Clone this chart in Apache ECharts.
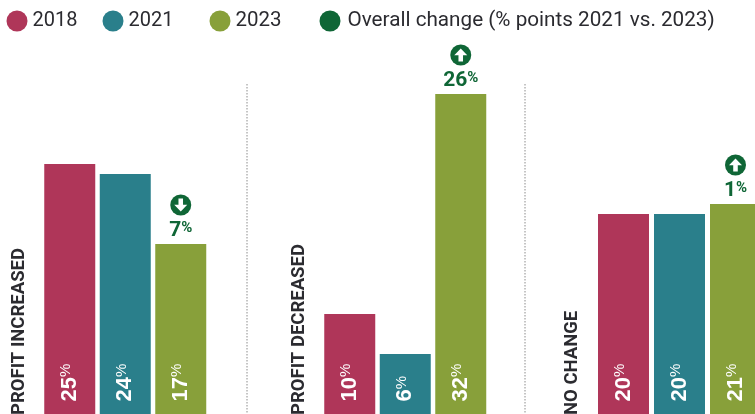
<!DOCTYPE html>
<html><head><meta charset="utf-8">
<style>html,body{margin:0;padding:0;background:#fff;overflow:hidden}#c{width:755px;height:414px}</style>
<script src="https://cdn.jsdelivr.net/npm/echarts@6/dist/echarts.min.js"></script>
</head><body><div id="c"></div>
<script>
const years = ['2018', '2021', '2023'];
const panels = ['PROFIT INCREASED', 'PROFIT DECREASED', 'NO CHANGE'];
const values2018 = [25, 10, 20];
const values2021 = [24, 6, 20];
const values2023 = [17, 32, 21];
const changeValues = [7, 26, 1];
const changeDirections = ['down', 'up', 'up'];
const changeName = 'Overall change (% points 2021 vs. 2023)';

const colors = {'2018': '#AF3659', '2021': '#2A7F8B', '2023': '#88A03A'};
const green = '#0F6636';
const ink = '#2B2B30';
const face = 'Roboto,"Liberation Sans",sans-serif';
const wide = '"Liberation Sans",sans-serif';
const series = [values2018, values2021, values2023];
const gridBoxes = [{left: 42, right: 546.5}, {left: 322, right: 266.5}, {left: 595.5, right: -8.5}];
const arrowUp = 'path://M50 10 L90 52 L64 52 L64 90 L36 90 L36 52 L10 52 Z';

const option = {
  animation: false,
  backgroundColor: '#fff',
  legend: [
    {name: '2018', left: 6.5, size: 20, gap: 0}, {name: '2021', left: 102.5, size: 20, gap: 0},
    {name: '2023', left: 209.5, size: 20.5, gap: 0}, {name: changeName, left: 319.5, size: 20.7, gap: 2}
  ].map(l => ({
    data: [l.name], left: l.left, top: 10.5, icon: 'circle', itemWidth: 21, itemHeight: 21, padding: 0,
    selectedMode: false,
    textStyle: {fontFamily: face, fontSize: l.size, color: ink, padding: [0, 0, 0, l.gap]}
  })),
  grid: gridBoxes.map(b => ({left: b.left, right: b.right, top: 0, bottom: 0, containLabel: false, outerBoundsMode: 'none'})),
  xAxis: panels.map((p, i) => ({
    type: 'category', gridIndex: i, data: years, show: false
  })),
  yAxis: panels.map((p, i) => ({
    type: 'value', gridIndex: i, min: 0, max: 41.4, position: 'left', offset: 23,
    axisLine: {show: false}, axisTick: {show: false}, axisLabel: {show: false}, splitLine: {show: false},
    name: p, nameLocation: 'start', nameGap: 1, nameRotate: 90,
    nameTextStyle: {fontFamily: face, fontWeight: 'bold', fontSize: 18.5, color: ink, align: 'left', verticalAlign: 'middle'}
  })),
  series: [],
  graphic: [247, 525].map(x => ({
    type: 'line', silent: true, shape: {x1: x, y1: 84, x2: x, y2: 414},
    style: {stroke: '#8c8c8c', lineWidth: 1, lineDash: [1.5, 1.5]}
  }))
};

panels.forEach((p, i) => {
  years.forEach((y, k) => {
    option.series.push({
      type: 'bar', name: y, xAxisIndex: i, yAxisIndex: i, stack: 'p' + i, barWidth: 51,
      itemStyle: {color: colors[y]},
      data: years.map((_, j) => j === k ? series[k][i] : '-'),
      label: {
        show: true, position: 'insideBottom', distance: 11, rotate: 90, align: 'left', verticalAlign: 'middle',
        offset: [1.5, 0],
        formatter: d => '{n|' + d.value + '}{p|%}',
        rich: {
          n: {fontFamily: wide, fontWeight: 'bold', fontSize: 22, color: '#fff', lineHeight: 22},
          p: {fontFamily: wide, fontSize: 15, color: '#fff', lineHeight: 15, verticalAlign: 'top'}
        }
      }
    });
  });
  const top = series[2][i];
  option.series.push({
    type: 'scatter', name: changeName, xAxisIndex: i, yAxisIndex: i, symbol: 'circle', symbolSize: 21,
    symbolOffset: [0, -39], itemStyle: {color: green, opacity: 1}, z: 3, clip: false,
    data: [{value: [years[2], top], change: changeValues[i]}],
    label: {
      show: true, position: 'inside', offset: [0, 26],
      formatter: d => '{n|' + d.data.change + '}{p|%}',
      rich: {
        n: {fontFamily: face, fontWeight: 'bold', fontSize: 21, color: green, lineHeight: 21},
        p: {fontFamily: face, fontWeight: 'bold', fontSize: 15, color: green, lineHeight: 15, verticalAlign: 'top'}
      }
    }
  });
  option.series.push({
    type: 'scatter', xAxisIndex: i, yAxisIndex: i, symbol: arrowUp, symbolSize: 13,
    symbolRotate: changeDirections[i] === 'down' ? 180 : 0, symbolOffset: [0, -39],
    itemStyle: {color: '#fff', opacity: 1}, z: 4, silent: true, clip: false,
    data: [[years[2], top]]
  });
});

echarts.init(document.getElementById('c'), null, {renderer: 'canvas'}).setOption(option);
</script></body></html>
